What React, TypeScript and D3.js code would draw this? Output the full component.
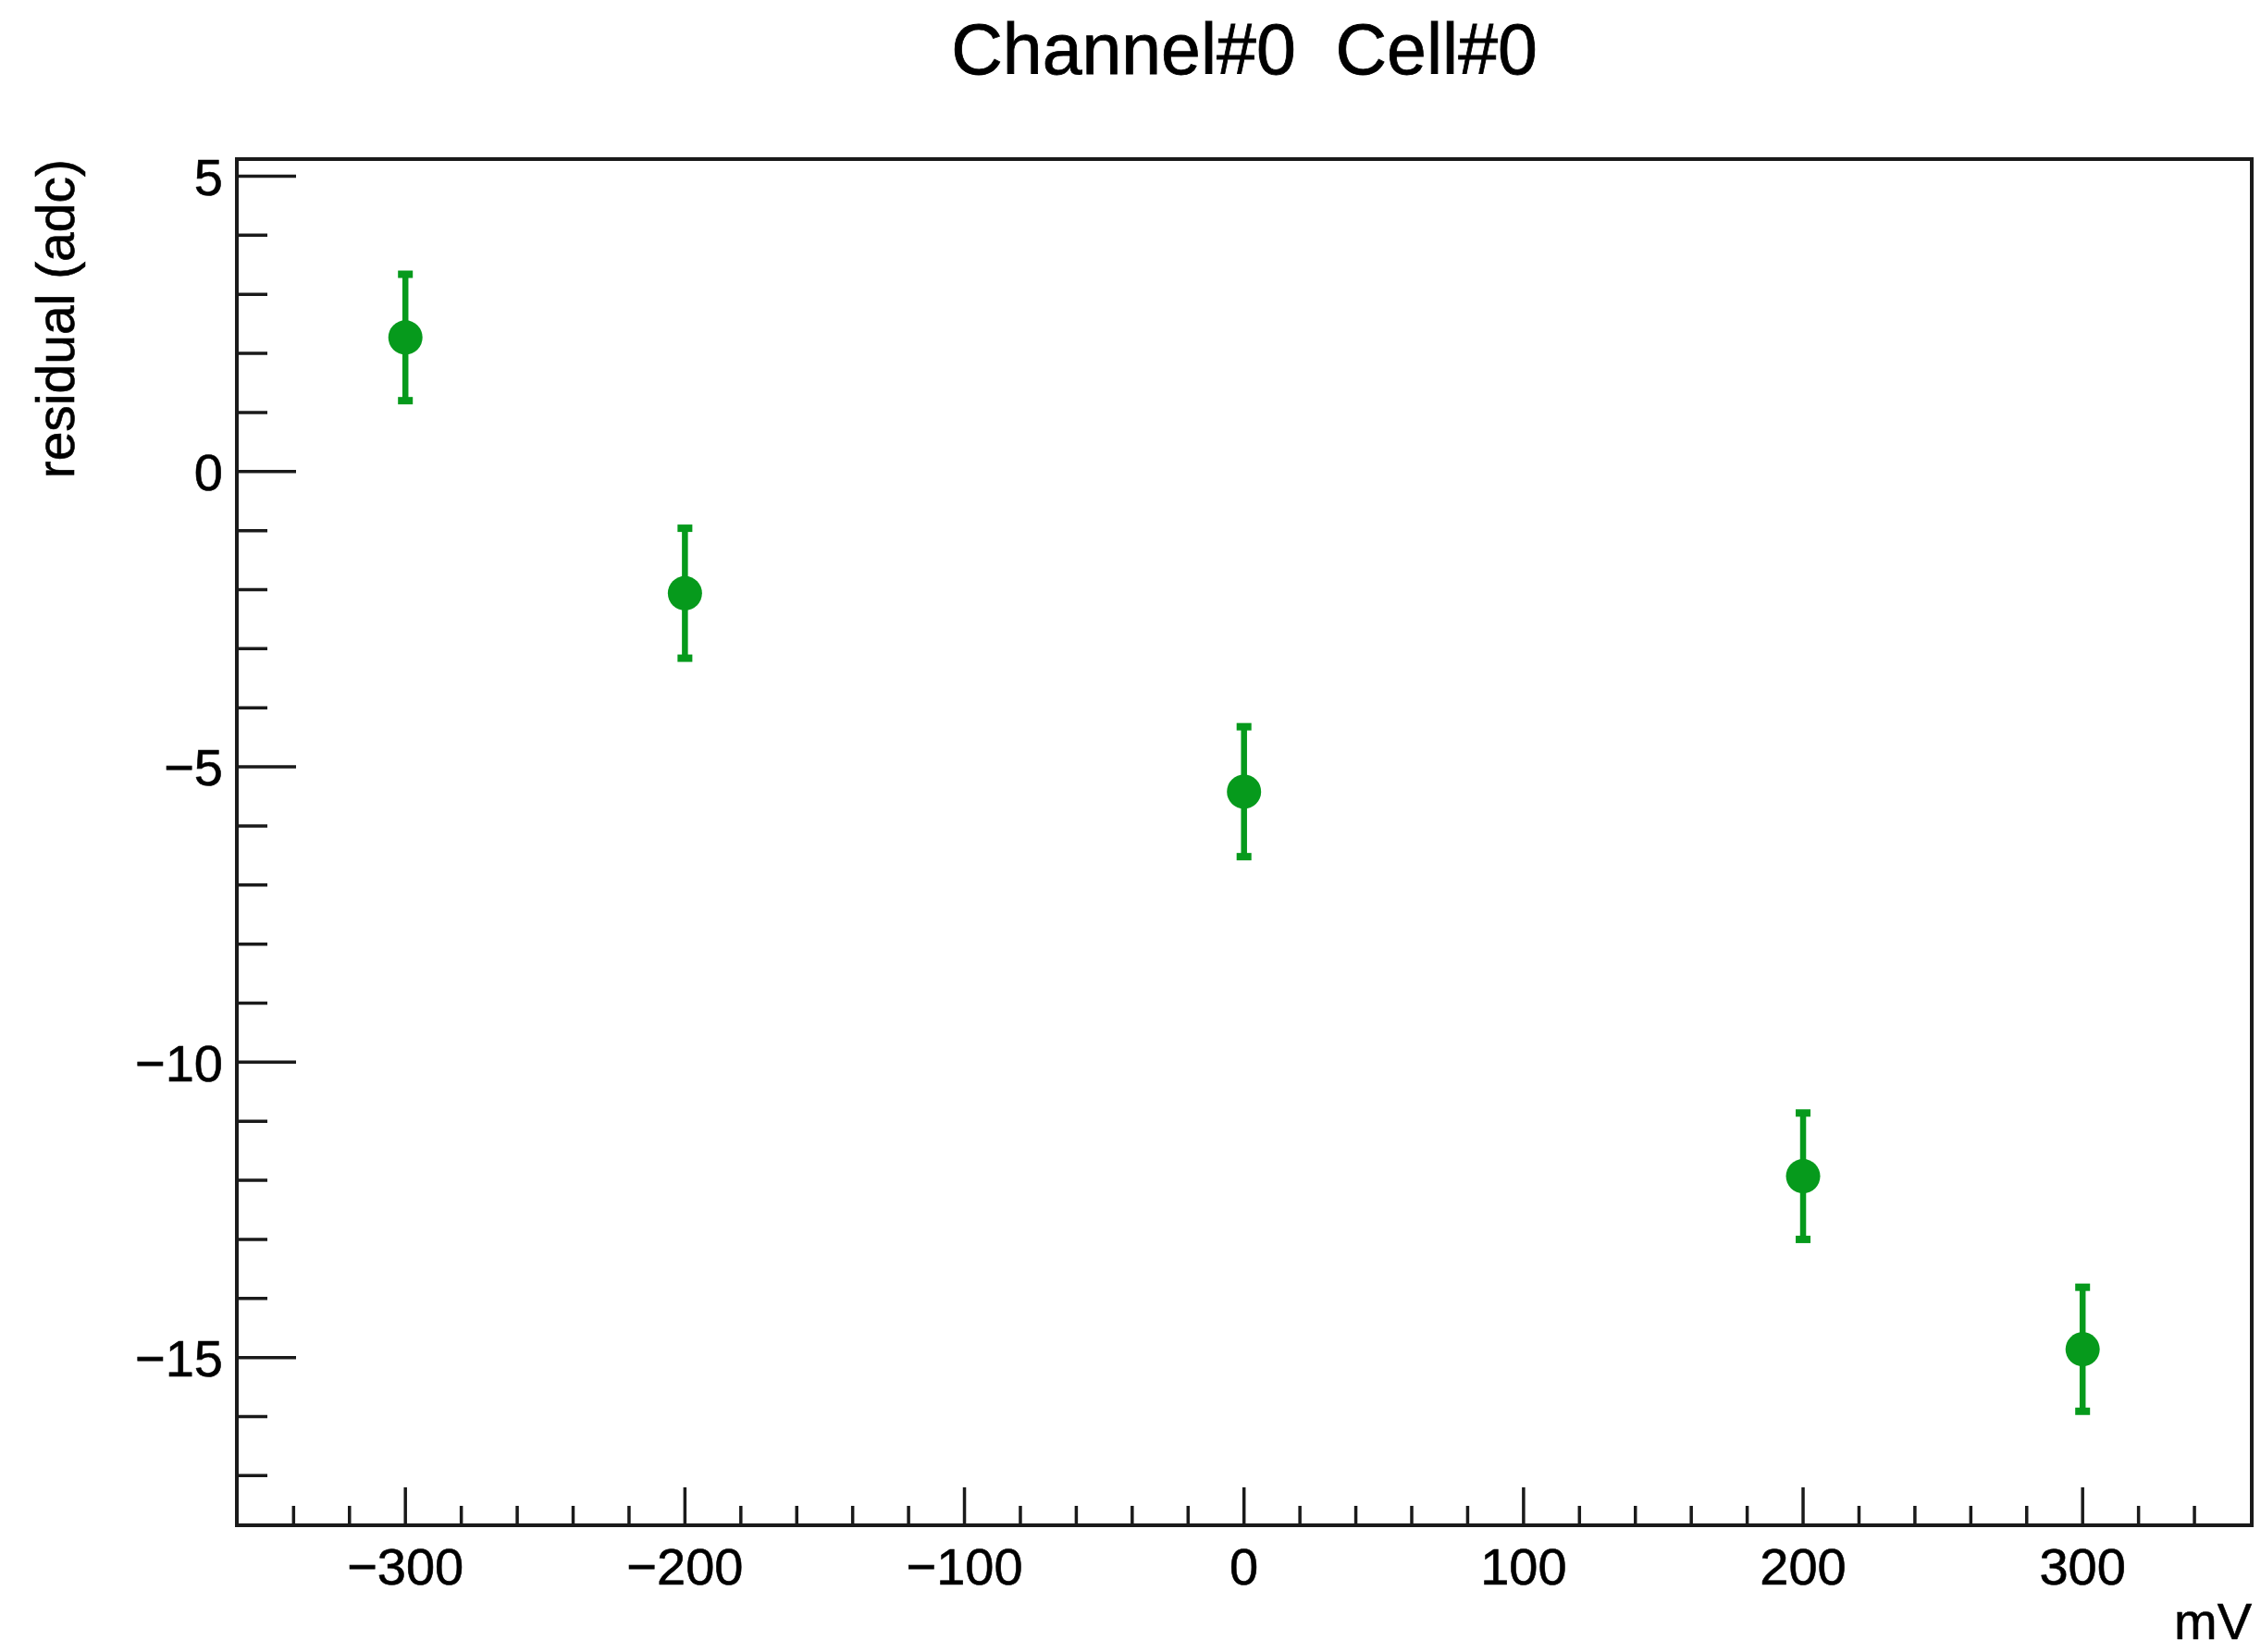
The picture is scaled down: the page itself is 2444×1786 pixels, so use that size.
import React from "react";
import * as d3 from "d3";

const xValues = [-300, -200, 0, 200, 300];
const yValues = [2.27, -2.06, -5.42, -11.93, -14.86];
const yErrors = [1.07, 1.1, 1.1, 1.07, 1.05];
const xMajorTicks = [-300, -200, -100, 0, 100, 200, 300];
const yMajorTicks = [-15, -10, -5, 0, 5];
const titleText = "Channel#0\u00A0\u00A0Cell#0";
const xTitle = "mV";
const yTitle = "residual (adc)";

const W = 2444;
const H = 1786;
const FONT = "'Liberation Sans', Arial, Helvetica, sans-serif";
const GREEN = "#069a1c";
const AXIS = "#1a1a1a";

export default function App() {
  const left = 256, right = 2434, top = 172, bottom = 1649;
  const x = d3.scaleLinear().domain([-360.3, 360.5]).range([left, right]);
  const y = d3.scaleLinear().domain([-17.84, 5.29]).range([bottom, top]);

  const xMinor = d3.range(-340, 341, 20).filter((v) => !xMajorTicks.includes(v));
  const yMinor = d3.range(-17, 6, 1).filter((v) => !yMajorTicks.includes(v));

  const xMajLen = 41, xMinLen = 21;
  const yMajLen = 64, yMinLen = 33;

  return (
    <svg
      width={W}
      height={H}
      style={{ position: "absolute", left: 0, top: 0, display: "block", background: "#fff" }}
      fontFamily={FONT}
    >
      <rect x={0} y={0} width={W} height={H} fill="#fff" />
      {/* title */}
      <text x={1345} y={80} fontSize={77} textAnchor="middle" fill="#000" stroke="#000" strokeWidth={0.8}>
        {titleText}
      </text>

      {/* ticks */}
      <g stroke={AXIS} strokeWidth={3.5}>
        {xMajorTicks.map((v) => (
          <line key={"xM" + v} x1={x(v)} x2={x(v)} y1={bottom} y2={bottom - xMajLen} />
        ))}
        {xMinor.map((v) => (
          <line key={"xm" + v} x1={x(v)} x2={x(v)} y1={bottom} y2={bottom - xMinLen} />
        ))}
        {yMajorTicks.map((v) => (
          <line key={"yM" + v} x1={left} x2={left + yMajLen} y1={y(v)} y2={y(v)} />
        ))}
        {yMinor.map((v) => (
          <line key={"ym" + v} x1={left} x2={left + yMinLen} y1={y(v)} y2={y(v)} />
        ))}
      </g>

      {/* frame */}
      <rect
        x={left}
        y={top}
        width={right - left}
        height={bottom - top}
        fill="none"
        stroke={AXIS}
        strokeWidth={4}
      />

      {/* tick labels */}
      <g fontSize={56} fill="#000" stroke="#000" strokeWidth={0.6}>
        {xMajorTicks.map((v) => (
          <text key={"xl" + v} x={x(v)} y={1713} textAnchor="middle">
            {v < 0 ? "\u2212" + Math.abs(v) : String(v)}
          </text>
        ))}
        {yMajorTicks.map((v) => (
          <text key={"yl" + v} x={241} y={y(v)} dy="0.36em" textAnchor="end">
            {v < 0 ? "\u2212" + Math.abs(v) : String(v)}
          </text>
        ))}
      </g>

      {/* axis titles */}
      <text x={right} y={1772} fontSize={56} textAnchor="end" fill="#000" stroke="#000" strokeWidth={0.6}>
        {xTitle}
      </text>
      <text
        transform={`translate(80, ${top}) rotate(-90)`}
        fontSize={57}
        textAnchor="end"
        fill="#000"
        stroke="#000"
        strokeWidth={0.6}
      >
        {yTitle}
      </text>

      {/* data */}
      <g>
        {xValues.map((xv, i) => {
          const cx = x(xv);
          const cy = y(yValues[i]);
          const yt = y(yValues[i] + yErrors[i]);
          const yb = y(yValues[i] - yErrors[i]);
          return (
            <g key={"p" + i}>
              <line x1={cx} x2={cx} y1={yt} y2={yb} stroke={GREEN} strokeWidth={6.5} />
              <rect x={cx - 8} y={yt - 4} width={16} height={8} fill={GREEN} />
              <rect x={cx - 8} y={yb - 4} width={16} height={8} fill={GREEN} />
              <circle cx={cx} cy={cy} r={18.5} fill={GREEN} />
            </g>
          );
        })}
      </g>
    </svg>
  );
}
